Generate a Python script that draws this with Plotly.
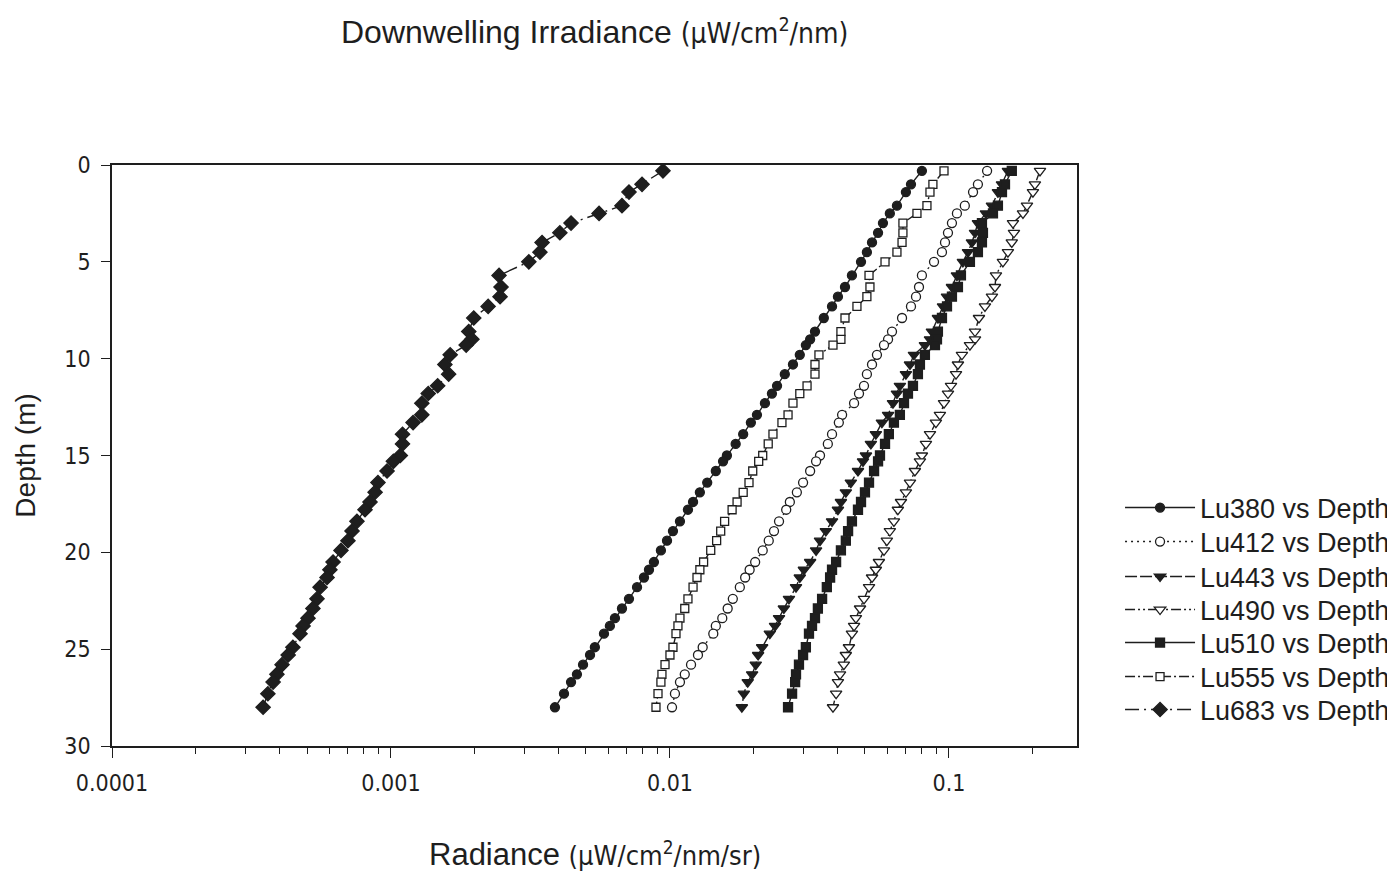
import plotly.graph_objects as go

# Depth (m) of each sample, shared by all channels
depth = [0.3, 1.0, 1.4, 2.1, 2.5, 3.0, 3.5, 4.0, 4.5, 5.0, 5.7, 6.3, 6.8, 7.3, 7.9,
         8.6, 9.0, 9.3, 9.8, 10.3, 10.8, 11.4, 11.8, 12.3, 12.9, 13.3, 13.9, 14.4,
         15.0, 15.3, 15.8, 16.4, 16.9, 17.4, 17.8, 18.4, 18.9, 19.4, 19.9, 20.5,
         20.9, 21.3, 21.8, 22.4, 22.9, 23.4, 23.8, 24.2, 24.9, 25.3, 25.8, 26.3,
         26.7, 27.3, 28.0]

lu380 = [0.0800, 0.0731, 0.0701, 0.0651, 0.0614, 0.0580, 0.0557, 0.0530, 0.0508, 0.0484,
         0.0449, 0.0424, 0.0400, 0.0381, 0.0356, 0.0331, 0.0318, 0.0307, 0.0292, 0.0276,
         0.0258, 0.0242, 0.0232, 0.0219, 0.0205, 0.0195, 0.0183, 0.0172, 0.0160, 0.0155,
         0.0146, 0.0136, 0.0128, 0.0121, 0.0116, 0.01086, 0.01025, 0.00976, 0.00928,
         0.00876, 0.00841, 0.00807, 0.00762, 0.00713, 0.00673, 0.00635, 0.00609, 0.00580,
         0.00538, 0.00517, 0.00488, 0.00464, 0.00442, 0.00417, 0.00387]

lu412 = [0.137, 0.127, 0.122, 0.114, 0.1068, 0.1025, 0.0992, 0.0968, 0.0944, 0.0884,
         0.0800, 0.0781, 0.0762, 0.0731, 0.0679, 0.0625, 0.0605, 0.0585, 0.0552, 0.0530,
         0.0508, 0.0496, 0.0476, 0.0457, 0.0414, 0.0403, 0.0381, 0.0368, 0.0345, 0.0334,
         0.0318, 0.0300, 0.0285, 0.0269, 0.0261, 0.0246, 0.0236, 0.0226, 0.0215, 0.0202,
         0.0193, 0.0186, 0.0178, 0.0168, 0.0161, 0.0154, 0.0146, 0.0143, 0.0131, 0.0126,
         0.0119, 0.0113, 0.01086, 0.01042, 0.01017]

lu443 = [0.1627, 0.1549, 0.1498, 0.1426, 0.1357, 0.127, 0.1240, 0.1209, 0.1170, 0.1122,
         0.1068, 0.1025, 0.0984, 0.0952, 0.0913, 0.0869, 0.0855, 0.0820, 0.0749, 0.0725,
         0.0701, 0.0667, 0.0651, 0.0630, 0.0605, 0.0575, 0.0547, 0.0525, 0.0504, 0.0492,
         0.0472, 0.0445, 0.0427, 0.0410, 0.0400, 0.0381, 0.0362, 0.0345, 0.0334, 0.0318,
         0.0302, 0.0292, 0.0283, 0.0267, 0.0256, 0.0246, 0.0238, 0.0228, 0.0214, 0.0207,
         0.0203, 0.0197, 0.0190, 0.0184, 0.0181]

lu490 = [0.2120, 0.2033, 0.2000, 0.1904, 0.1842, 0.1696, 0.1710, 0.168, 0.1627, 0.1561,
         0.1474, 0.1462, 0.1426, 0.1346, 0.1281, 0.1240, 0.1240, 0.1189, 0.1113, 0.1077,
         0.1060, 0.1017, 0.0992, 0.0960, 0.0928, 0.0898, 0.0855, 0.0827, 0.0800, 0.0787,
         0.0755, 0.0725, 0.0701, 0.0673, 0.0656, 0.0635, 0.0614, 0.0599, 0.0585, 0.0561,
         0.0547, 0.0530, 0.0517, 0.0496, 0.0480, 0.0464, 0.0457, 0.0449, 0.0438, 0.0427,
         0.0420, 0.0407, 0.0400, 0.0394, 0.0384]

lu510 = [0.168, 0.1588, 0.1549, 0.1498, 0.1438, 0.1313, 0.1324, 0.1313, 0.127, 0.1189,
         0.1104, 0.1077, 0.1025, 0.0984, 0.0944, 0.0913, 0.0906, 0.0891, 0.0820, 0.0787,
         0.0774, 0.0743, 0.0713, 0.0690, 0.0667, 0.0635, 0.0609, 0.0590, 0.0566, 0.0557,
         0.0539, 0.0517, 0.0500, 0.0484, 0.0472, 0.0449, 0.0435, 0.0427, 0.0410, 0.0394,
         0.0381, 0.0375, 0.0365, 0.0351, 0.0339, 0.0331, 0.0323, 0.0315, 0.0307, 0.0300,
         0.0290, 0.0283, 0.0281, 0.0274, 0.0265]

lu555 = [0.0960, 0.0876, 0.0855, 0.0834, 0.0768, 0.0684, 0.0684, 0.0679, 0.0651, 0.0590,
         0.0517, 0.0521, 0.0508, 0.0468, 0.0424, 0.0410, 0.0410, 0.0384, 0.0342, 0.0331,
         0.0331, 0.0310, 0.0292, 0.0276, 0.0265, 0.0252, 0.0234, 0.0225, 0.0215, 0.0208,
         0.0198, 0.0192, 0.0183, 0.0174, 0.0167, 0.0157, 0.0152, 0.0147, 0.0140, 0.0132,
         0.0128, 0.0125, 0.0121, 0.0116, 0.0113, 0.01086, 0.01068, 0.01051, 0.01025, 0.0100,
         0.00960, 0.00936, 0.00928, 0.00906, 0.00891]

lu683 = [0.00944, 0.00794, 0.00713, 0.00673, 0.00557, 0.00442, 0.00403, 0.00348, 0.00342,
         0.00312, 0.00244, 0.00248, 0.00246, 0.00223, 0.00198, 0.00190, 0.00195, 0.00186,
         0.00163, 0.00156, 0.00161, 0.00147, 0.00136, 0.00129, 0.00129, 0.00120, 0.00110,
         0.00110, 0.00108, 0.00102, 0.000968, 0.000898, 0.000877, 0.000841, 0.000807,
         0.000755, 0.000725, 0.000701, 0.000662, 0.000620, 0.000604, 0.000590, 0.000557,
         0.000543, 0.000525, 0.000504, 0.000484, 0.000472, 0.000445, 0.000428, 0.000407,
         0.000390, 0.000378, 0.000362, 0.000348]

x_tick_vals = [0.0001, 0.001, 0.01, 0.1]
x_tick_text = ["0.0001", "0.001", "0.01", "0.1"]
y_tick_vals = [0, 5, 10, 15, 20, 25, 30]

INK = "#1e1e1e"
MAIN = "Liberation Sans, Arial, Helvetica, sans-serif"
NARROW = "DejaVu Sans Condensed, Liberation Sans Narrow, Arial Narrow, Liberation Sans, Arial, sans-serif"

# name, values, symbol, size, dash, filled
series = [
    ("Lu380 vs Depth", lu380, "circle", 9, "solid", True),
    ("Lu412 vs Depth", lu412, "circle", 9, "2px,4px", False),
    ("Lu443 vs Depth", lu443, "triangle-down", 10, "12px,3px", True),
    ("Lu490 vs Depth", lu490, "triangle-down", 10, "10px,3px,2px,3px,2px,3px", False),
    ("Lu510 vs Depth", lu510, "square", 9, "solid", True),
    ("Lu555 vs Depth", lu555, "square", 8, "10px,3px,2px,3px", False),
    ("Lu683 vs Depth", lu683, "diamond", 11, "14px,5px,2px,5px", True),
]

# legend row centres (paper y) -- layout only
legend_rows = [0.4096, 0.3511, 0.2909, 0.2341, 0.1773, 0.1188, 0.0620]

fig = go.Figure()
legend_layout = {}
for i, (name, vals, sym, size, dash, filled) in enumerate(series):
    key = "legend" if i == 0 else "legend%d" % (i + 1)
    fig.add_trace(go.Scatter(
        x=vals, y=depth, name=name, mode="lines+markers", legend=key,
        line=dict(color=INK, width=1.4, dash=dash),
        marker=dict(symbol=sym, size=size, color=INK if filled else "white",
                    line=dict(color=INK, width=1.3)),
    ))
    legend_layout[key] = dict(
        x=1.0446, y=legend_rows[i], xanchor="left", yanchor="middle",
        font=dict(family=MAIN, size=27, color=INK),
        bgcolor="rgba(0,0,0,0)", itemwidth=70, borderwidth=0,
    )

minor_vals = [m * d for d in [0.0001, 0.001, 0.01, 0.1] for m in range(2, 10)]

fig.update_layout(
    width=1387, height=867,
    margin=dict(l=104, r=318, t=157, b=129, autoexpand=False),
    paper_bgcolor="white", plot_bgcolor="white",
    font=dict(family=MAIN, color=INK),
    showlegend=True,
    annotations=[
        dict(text="Downwelling Irradiance <span style='font-family:" + NARROW +
                  ";font-size:28px'>(µW/cm<sup>2</sup>/nm)</span>",
             xref="paper", yref="paper", x=0.5, y=1.229, xanchor="center", yanchor="middle",
             showarrow=False, font=dict(family=MAIN, size=32, color=INK)),
        dict(text="Radiance <span style='font-family:" + NARROW +
                  ";font-size:27px'>(µW/cm<sup>2</sup>/nm/sr)</span>",
             xref="paper", yref="paper", x=0.5, y=-0.186, xanchor="center", yanchor="middle",
             showarrow=False, font=dict(family=MAIN, size=31, color=INK)),
        dict(text="Depth (m)", textangle=-90,
             xref="paper", yref="paper", x=-0.09, y=0.5, xanchor="center", yanchor="middle",
             showarrow=False, font=dict(family=MAIN, size=28, color=INK)),
    ],
    **legend_layout,
)

fig.update_xaxes(
    type="log", range=[-4, -0.541], showgrid=False, zeroline=False,
    showline=True, linecolor=INK, linewidth=1.5, mirror=True,
    ticks="outside", ticklen=10, tickwidth=1.3, tickcolor=INK,
    tickvals=x_tick_vals, ticktext=x_tick_text, ticklabelstandoff=6,
    tickfont=dict(family=NARROW, size=23, color=INK),
    minor=dict(tickvals=minor_vals, ticks="outside", ticklen=6, tickwidth=1.1,
               tickcolor=INK, showgrid=False),
)
fig.update_yaxes(
    range=[30, 0], showgrid=False, zeroline=False,
    showline=True, linecolor=INK, linewidth=1.5, mirror=True,
    ticks="outside", ticklen=9, tickwidth=1.3, tickcolor=INK,
    tickvals=y_tick_vals, ticklabelstandoff=6,
    tickfont=dict(family=NARROW, size=23, color=INK),
)

fig.write_html("out.html")
